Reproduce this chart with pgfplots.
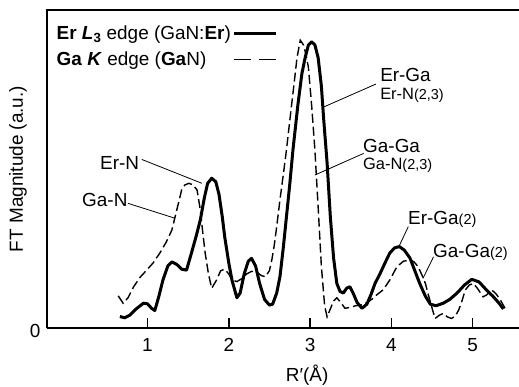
\documentclass[border=0pt]{standalone}
\usepackage{pgfplots}
\pgfplotsset{compat=1.18}
\usepackage{fontspec}
\setmainfont{Liberation Sans}
\newcommand{\midsz}{\fontsize{16.5}{19}\selectfont}
\newcommand{\smsz}{\fontsize{14.5}{17}\selectfont}
\begin{document}
\begin{tikzpicture}[font=\fontsize{19}{22}\selectfont]
\begin{axis}[
  scale only axis, width=472bp, height=318bp,
  xmin=-0.237, xmax=5.572, ymin=0, ymax=100,
  axis x line*=bottom, axis y line*=left,
  axis line style={line width=1.8bp},
  xtick={1,2,3,4,5}, ytick={0},
  tick align=inside,
  major tick length=10bp,
  x tick style={line width=1.5bp, black},
  y tick style={draw=none},
  /pgf/number format/assume math mode=true,
  xticklabel style={yshift=-7bp},
  yticklabel style={xshift=-3bp, yshift=-3bp},
  xlabel={R′(Å)}, ylabel={FT Magnitude (a.u.)},
  xlabel style={at={(axis description cs:0.551,-0.148)}, anchor=center},
  ylabel style={at={(axis description cs:-0.0614,0.5)}, anchor=center},
  legend plot pos=right,
  legend cell align=left,
  legend style={draw=none, fill=none, at={(axis description cs:0.016,0.957)}, anchor=north west,
    row sep=7bp, inner sep=0pt, font=\fontsize{19}{22}\selectfont},
  clip=false,
]
\coordinate (sw) at (rel axis cs:0,0);
\coordinate (ne) at (rel axis cs:1,1);
\draw[line width=1.8bp] (rel axis cs:0,0) -- (rel axis cs:0,1) -- (rel axis cs:1,1);

\addplot[black, line width=3bp, line join=round,
  legend image code/.code={\draw[black, line width=3bp] (0bp,0bp) -- (42bp,0bp);}]
coordinates {
(0.66,3.6) (0.72,3.2) (0.78,4.0) (0.86,6.0) (0.95,7.8) (1.00,7.6) (1.05,6.2) (1.09,5.5)
(1.14,10) (1.19,15.1) (1.25,19.5) (1.30,20.8) (1.36,20.0) (1.42,18.5) (1.48,18.2) (1.54,23.5)
(1.60,29) (1.65,34) (1.70,41) (1.74,45.5) (1.79,47.1) (1.84,46) (1.88,42) (1.92,35) (1.95,28.7)
(2.00,20.5) (2.04,15) (2.10,9.5) (2.14,11) (2.19,17) (2.24,21) (2.28,21.9) (2.33,19.5)
(2.38,14) (2.44,9) (2.50,7.2) (2.54,7.5) (2.59,11) (2.63,16.1) (2.67,25) (2.71,35) (2.75,45)
(2.79,56) (2.85,70) (2.90,80) (2.94,85) (2.98,89) (3.02,90) (3.06,89) (3.10,85) (3.14,76)
(3.17,65) (3.21,52) (3.25,35) (3.29,22) (3.33,14) (3.37,11.5) (3.41,11) (3.45,12.5) (3.49,13)
(3.53,11) (3.58,8) (3.64,6.2) (3.70,7.5) (3.75,10.5) (3.80,14) (3.86,17) (3.92,20.3)
(3.98,23.5) (4.04,25.2) (4.10,25.6) (4.16,24.5) (4.23,22) (4.29,18) (4.35,14) (4.42,10)
(4.48,7.5) (4.55,7.0) (4.64,7.8) (4.72,9) (4.81,11) (4.90,13.5) (4.99,15.3) (5.08,14.5)
(5.17,12) (5.25,10) (5.32,8) (5.38,6.0)
};
\addlegendentry{\textbf{Er \textit{L}\textsubscript{3}} edge (GaN:\textbf{Er})\hspace{5bp}}

\addplot[black, line width=1.4bp, dash pattern=on 9bp off 4bp,
  legend image code/.code={\draw[black, line width=1.4bp, dash pattern=on 17bp off 8bp] (0bp,0bp) -- (42bp,0bp);}]
coordinates {
(0.64,10.1) (0.70,7.8) (0.76,9.5) (0.83,13.0) (0.91,16) (0.99,18.2) (1.07,20.5) (1.15,23.5)
(1.23,27) (1.30,30.8) (1.36,37.1) (1.42,43.4) (1.46,45) (1.51,45.5) (1.56,45) (1.61,43.4)
(1.65,37.1) (1.68,30) (1.71,23.5) (1.75,17) (1.79,12.5) (1.85,15.1) (1.90,18) (1.95,18.5)
(2.00,17) (2.04,15.1) (2.10,14.6) (2.16,15.5) (2.22,17) (2.28,17.8) (2.34,17.7) (2.40,16.5)
(2.45,16.1) (2.50,18) (2.53,21.4) (2.56,26) (2.59,31.9) (2.63,40.3) (2.67,48) (2.71,56)
(2.75,65) (2.80,76) (2.84,85) (2.88,90.5) (2.92,89) (2.95,86) (2.98,82) (3.02,70) (3.06,56)
(3.10,38) (3.14,19.3) (3.18,7) (3.21,3.5) (3.25,6) (3.29,8.5) (3.33,9.5) (3.38,8) (3.43,6.2)
(3.50,6.5) (3.56,7) (3.62,7.2) (3.70,8) (3.76,9) (3.82,10.4) (3.90,12) (3.98,15) (4.07,19.3)
(4.15,21) (4.23,21.4) (4.28,20.8) (4.33,19.3) (4.38,16.5) (4.42,14.0) (4.45,11) (4.48,8.3)
(4.51,5.5) (4.54,3.0) (4.59,4.0) (4.64,4.6) (4.69,3.5) (4.74,3.0) (4.79,3.8) (4.83,5.7)
(4.87,8.5) (4.91,11.9) (4.96,13.5) (5.01,14.0) (5.06,12.5) (5.13,9.8) (5.18,10.5) (5.22,11.9)
(5.26,11.5) (5.30,10.4) (5.35,8.5) (5.40,6.2)
};
\addlegendentry{\textbf{Ga \textit{K}} edge (\textbf{Ga}N)}

% annotations
\node[anchor=base west, inner sep=0pt] at (axis cs:0.415,49.7) {Er-N};
\draw[line width=0.8bp] (axis cs:0.93,53.0) -- (axis cs:1.67,45.5);
\node[anchor=base west, inner sep=0pt] at (axis cs:0.194,38.1) {Ga-N};
\draw[line width=0.8bp] (axis cs:0.76,39.2) -- (axis cs:1.34,34.5);
\node[anchor=base west, inner sep=0pt] at (axis cs:3.862,77.4) {Er-Ga};
\node[anchor=base west, inner sep=0pt] at (axis cs:3.862,71.7) {\midsz Er-N{\smsz(2,3)}};
\draw[line width=0.8bp] (axis cs:3.81,76.7) -- (axis cs:3.16,69.4);
\node[anchor=base west, inner sep=0pt] at (axis cs:3.652,55.3) {Ga-Ga};
\node[anchor=base west, inner sep=0pt] at (axis cs:3.652,49.7) {\midsz Ga-N{\smsz(2,3)}};
\draw[line width=0.8bp] (axis cs:3.66,54.9) -- (axis cs:3.06,48.1);
\node[anchor=base west, inner sep=0pt] at (axis cs:4.206,32.4) {Er-Ga{\smsz(2)}};
\draw[line width=0.8bp] (axis cs:4.21,31.9) -- (axis cs:4.09,25.4);
\node[anchor=base west, inner sep=0pt] at (axis cs:4.514,22.3) {Ga-Ga{\smsz(2)}};
\draw[line width=0.8bp] (axis cs:4.52,22.4) -- (axis cs:4.39,15.6);
\end{axis}
\pgfresetboundingbox
\path[use as bounding box] ([xshift=-47bp,yshift=-59bp]sw) rectangle ([yshift=10bp]ne);
\end{tikzpicture}
\end{document}
